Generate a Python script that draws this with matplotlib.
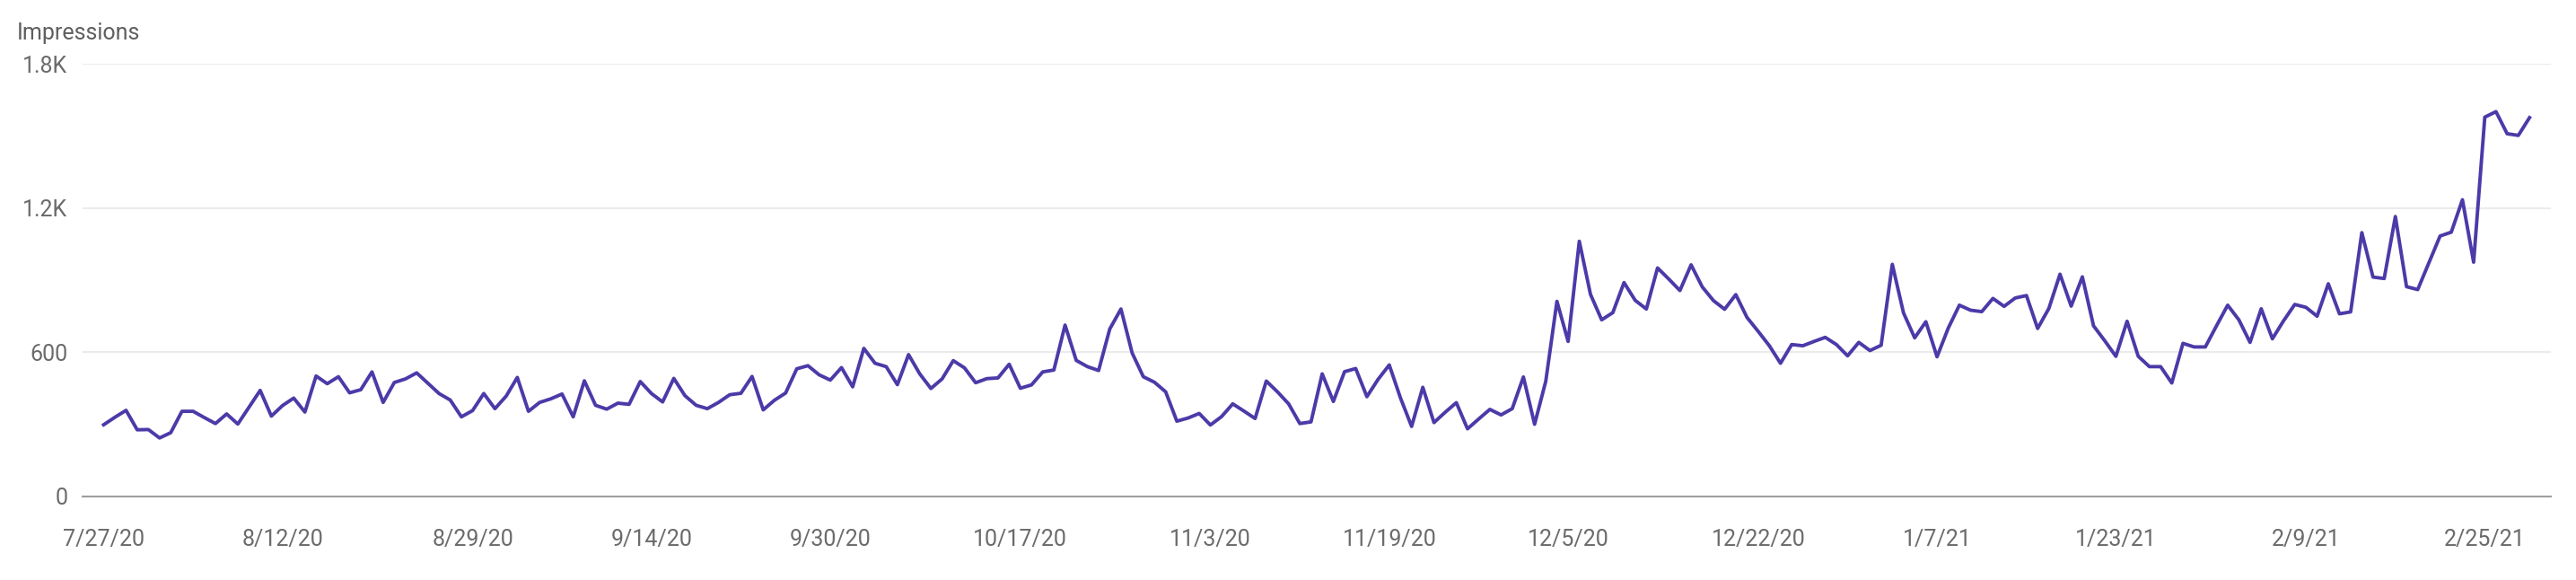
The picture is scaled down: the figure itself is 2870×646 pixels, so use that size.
import matplotlib

matplotlib.use("Agg")
import matplotlib.dates as mdates
import matplotlib.pyplot as plt
import pandas as pd
from matplotlib.ticker import FuncFormatter

plt.rcParams["font.family"] = ["Roboto", "DejaVu Sans"]

# daily impressions, 7/27/20 .. 3/1/21
start_date = "2020-07-27"
impressions = [
    298, 329, 358, 277, 278, 243, 265, 354, 354, 328,
    303, 343, 301, 371, 441, 334, 378, 409, 351, 501,
    469, 498, 431, 444, 518, 391, 474, 489, 514, 471,
    428, 401, 331, 357, 428, 365, 417, 495, 354, 391,
    406, 426, 331, 481, 379, 363, 388, 383, 478, 428,
    393, 491, 419, 379, 365, 391, 423, 429, 499, 360,
    400, 430, 531, 544, 506, 484, 536, 456, 616, 554,
    540, 465, 590, 510, 449, 489, 565, 535, 473, 490,
    493, 550, 450, 464, 518, 526, 713, 566, 540, 524,
    697, 780, 597, 498, 475, 435, 313, 326, 345, 297,
    332, 385, 355, 324, 480, 435, 385, 303, 310, 510,
    395, 519, 532, 415, 487, 547, 410, 291, 454, 307,
    350, 390, 281, 322, 362, 339, 365, 497, 300, 479,
    812, 645, 1062, 841, 735, 765, 890, 816, 780, 951,
    905, 857, 964, 872, 815, 779, 840, 745, 687, 627,
    554, 632, 627, 645, 662, 632, 585, 641, 607, 629,
    966, 764, 660, 727, 581, 700, 796, 775, 769, 824,
    791, 826, 836, 699, 782, 925, 792, 914, 710, 648,
    583, 729, 583, 540, 540, 472, 637, 622, 622, 710,
    796, 735, 641, 781, 656, 731, 799, 787, 750, 885,
    760, 768, 1098, 913, 907, 1165, 873, 861, 973, 1084,
    1100, 1235, 975, 1579, 1602, 1510, 1503, 1577,
]

tick_labels = [
    "7/27/20", "8/12/20", "8/29/20", "9/14/20", "9/30/20", "10/17/20", "11/3/20",
    "11/19/20", "12/5/20", "12/22/20", "1/7/21", "1/23/21", "2/9/21", "2/25/21",
]
y_ticks = [0, 600, 1200, 1800]

dates = pd.date_range(start_date, periods=len(impressions), freq="D")
tick_dates = pd.to_datetime(tick_labels, format="%m/%d/%y")

fig = plt.figure(figsize=(28.7, 6.46), dpi=100)
ax = fig.add_axes([0.032, 0.1443, 0.9582, 0.7452])

ax.plot(dates, impressions, color="#4b3aa8", linewidth=2.8, solid_joinstyle="round")

ax.set_ylim(0, 1800)
ax.set_xlim(dates[0] - pd.Timedelta(days=1.9), dates[-1] + pd.Timedelta(days=1.9))

ax.set_yticks(y_ticks)
ax.yaxis.set_major_formatter(
    FuncFormatter(lambda v, _: f"{v / 1000:.1f}K" if v >= 1000 else f"{v:.0f}")
)
ax.set_xticks(mdates.date2num(tick_dates))
ax.set_xticklabels(tick_labels)

ax.grid(axis="y", color="#ebebeb", linewidth=1.4)
ax.set_axisbelow(True)
for side in ["top", "right", "left"]:
    ax.spines[side].set_visible(False)
ax.spines["bottom"].set_color("#9e9e9e")
ax.spines["bottom"].set_linewidth(1.5)

ax.tick_params(axis="both", length=0, labelsize=18, labelcolor="#6b6b6b")
ax.tick_params(axis="y", pad=12)
ax.tick_params(axis="x", pad=26)

fig.text(0.0064, 0.942, "Impressions", fontsize=18, color="#5f5f5f", va="center", ha="left")

fig.savefig("out.png", dpi=100)
